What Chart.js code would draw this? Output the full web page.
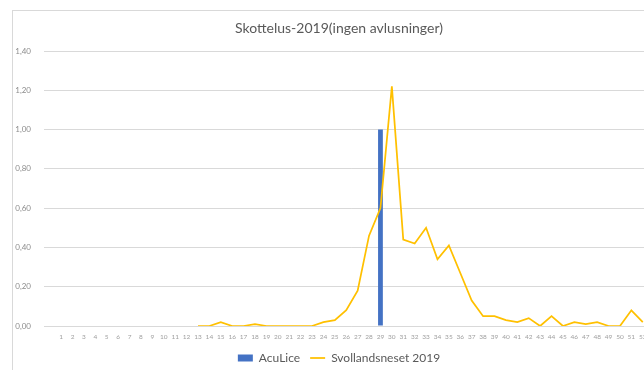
<!DOCTYPE html>
<html>
<head>
<meta charset="utf-8">
<script src="https://cdn.jsdelivr.net/npm/chart.js@4"></script>
<style>
  html, body { margin: 0; padding: 0; background: #fff; overflow: hidden; }
  #frame {
    position: absolute; left: 12px; top: 10px;
    width: 652px; height: 363px;
    border-left: 1px solid #d9d9d9; border-top: 1px solid #d9d9d9;
    box-sizing: border-box;
  }
  #frame canvas { position: absolute; left: 0; top: 0; }
</style>
</head>
<body>
<div id="frame"><canvas id="lice" width="652" height="363"></canvas></div>
<script>
// Blank lead-in column, then weeks 1–53
const weeks = [''].concat(Array.from({ length: 53 }, (_, i) => String(i + 1)));

// AcuLice treatment (week 29)
const acuLice = [
  null,
  null, null, null, null, null, null, null, null, null, null,
  null, null, null, null, null, null, null, null, null, null,
  null, null, null, null, null, null, null, null, 1.00, null,
  null, null, null, null, null, null, null, null, null, null,
  null, null, null, null, null, null, null, null, null, null,
  null, null, null,
];

// Skottelus per fisk, Svollandsneset 2019 (counts start week 13)
const svollandsneset = [
  null,
  null, null, null, null, null, null, null, null, null, null,
  null, null, 0.00, 0.00, 0.02, 0.00, 0.00, 0.01, 0.00, 0.00,
  0.00, 0.00, 0.00, 0.02, 0.03, 0.08, 0.18, 0.46, 0.60, 1.22,
  0.44, 0.42, 0.50, 0.34, 0.41, 0.27, 0.13, 0.05, 0.05, 0.03,
  0.02, 0.04, 0.00, 0.05, 0.00, 0.02, 0.01, 0.02, 0.00, 0.00,
  0.08, 0.02, null,
];

const yTicks = [0, 0.2, 0.4, 0.6, 0.8, 1.0, 1.2, 1.4];

const FONT = 'Lato, "Open Sans", sans-serif';
const TEXT = '#595959';

new Chart(document.getElementById('lice'), {
  data: {
    labels: weeks,
    datasets: [
      {
        type: 'bar',
        label: 'AcuLice',
        data: acuLice,
        backgroundColor: '#4472C4',
        barPercentage: 0.42,
        categoryPercentage: 1,
        order: 2,
        pointStyle: 'rect',
      },
      {
        type: 'line',
        label: 'Svollandsneset 2019',
        data: svollandsneset,
        borderColor: '#FFC000',
        backgroundColor: '#FFC000',
        borderWidth: 1.75,
        pointRadius: 0,
        tension: 0,
        spanGaps: false,
        order: 1,
        pointStyle: 'line',
      },
    ],
  },
  options: {
    responsive: false,
    animation: false,
    devicePixelRatio: 1,
    layout: { padding: 0 },
    plugins: {
      title: {
        display: true,
        text: 'Skottelus-2019(ingen avlusninger)',
        color: TEXT,
        font: { family: FONT, size: 14, weight: 'normal' },
        padding: { top: 9, bottom: 14.2 },
      },
      legend: {
        position: 'bottom',
        labels: {
          color: TEXT,
          font: { family: FONT, size: 12 },
          usePointStyle: true,
          pointStyleWidth: 15,
          boxHeight: 7,
          padding: 10,
          sort: (a, b) => a.datasetIndex - b.datasetIndex,
        },
      },
      tooltip: { enabled: false },
    },
    scales: {
      x: {
        offset: true,
        grid: { display: false, drawTicks: false },
        border: { display: false },
        ticks: {
          color: '#a0a0a0',
          font: { family: FONT, size: 6.5 },
          autoSkip: false,
          maxRotation: 0,
          padding: 7,
        },
        afterFit: s => { s.height = 16; },
      },
      y: {
        min: 0,
        max: 1.4,
        afterBuildTicks: s => { s.ticks = yTicks.map(v => ({ value: v })); },
        grid: { color: '#d9d9d9', lineWidth: 1, drawTicks: false },
        border: { display: false },
        ticks: {
          color: '#8c8c8c',
          font: { family: FONT, size: 8 },
          padding: 13,
          autoSkip: false,
          callback: v => v.toFixed(2).replace('.', ','),
        },
        afterFit: s => { s.width = 31; },
      },
      // empty right-hand margin of the plot
      yRight: {
        position: 'right',
        display: true,
        grid: { display: false },
        border: { display: false },
        ticks: { display: false },
        afterFit: s => { s.width = 5; },
      },
    },
  },
});
</script>
</body>
</html>
